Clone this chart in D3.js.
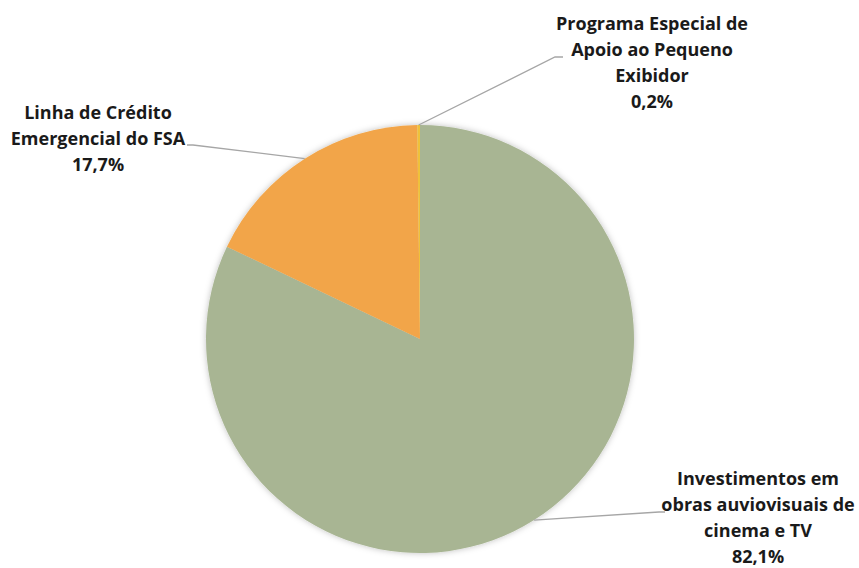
<!DOCTYPE html>
<html>
<head>
<meta charset="utf-8">
<script src="https://cdn.jsdelivr.net/npm/d3@7"></script>
<style>
  body { margin: 0; background: #fff; }
  text { font-family: "Open Sans", Lato, sans-serif; font-weight: bold; fill: #1a1a1a; }
</style>
</head>
<body>
<div id="chart"></div>
<script>
// categories, values (percent) and colours
const categories = [
    "Investimentos em obras auviovisuais de cinema e TV",
    "Linha de Crédito Emergencial do FSA",
    "Programa Especial de Apoio ao Pequeno Exibidor"
];
const values = [82.1, 17.7, 0.2];
const labelLines = [
    ["Investimentos em", "obras auviovisuais de", "cinema e TV"],
    ["Linha de Crédito", "Emergencial do FSA"],
    ["Programa Especial de", "Apoio ao Pequeno", "Exibidor"]
];
const colors = ["#a8b593", "#f2a548", "#efc13a"];

const width = 859, height = 568;
const cx = 420, cy = 339, radius = 214;

// label block placement (centre x, first baseline y) and leader elbow
const labelPos = [
    { x: 758, y: 485, elbow: [659, 512], end: [665, 512] },
    { x: 98, y: 119, elbow: [193, 145], end: [187, 145] },
    { x: 652, y: 30, elbow: [555, 57], end: [563, 57] }
];
const lineH = 26;

const svg = d3.select("#chart").append("svg")
    .attr("width", width)
    .attr("height", height);

const defs = svg.append("defs");
const shadow = defs.append("filter").attr("id", "shadow")
    .attr("x", "-10%").attr("y", "-10%").attr("width", "120%").attr("height", "120%");
shadow.append("feDropShadow")
    .attr("dx", 0).attr("dy", 0).attr("stdDeviation", 3)
    .attr("flood-color", "#000").attr("flood-opacity", 0.25);

const pie = d3.pie().sort(null).value(d => d);
const arcs = pie(values);
const arc = d3.arc().innerRadius(0).outerRadius(radius);

const g = svg.append("g").attr("transform", `translate(${cx},${cy})`);

g.append("g").attr("filter", "url(#shadow)")
    .selectAll("path")
    .data(arcs)
    .join("path")
    .attr("d", arc)
    .attr("fill", (d, i) => colors[i]);

// leader lines: start on the rim at the slice's middle angle
arcs.forEach((d, i) => {
    const a = (d.startAngle + d.endAngle) / 2;
    const sx = cx + radius * Math.sin(a);
    const sy = cy - radius * Math.cos(a);
    const p = labelPos[i];
    svg.append("polyline")
        .attr("points", [[sx, sy], p.elbow, p.end].map(q => q.join(",")).join(" "))
        .attr("fill", "none")
        .attr("stroke", "#a6a6a6")
        .attr("stroke-width", 1.3);

    const t = svg.append("text")
        .attr("text-anchor", "middle")
        .style("font-size", "18px");
    const lines = labelLines[i].concat([d3.format(".1f")(values[i]).replace(".", ",") + "%"]);
    lines.forEach((ln, k) => {
        t.append("tspan")
            .attr("x", p.x)
            .attr("y", p.y + k * lineH)
            .text(ln);
    });
});
</script>
</body>
</html>
